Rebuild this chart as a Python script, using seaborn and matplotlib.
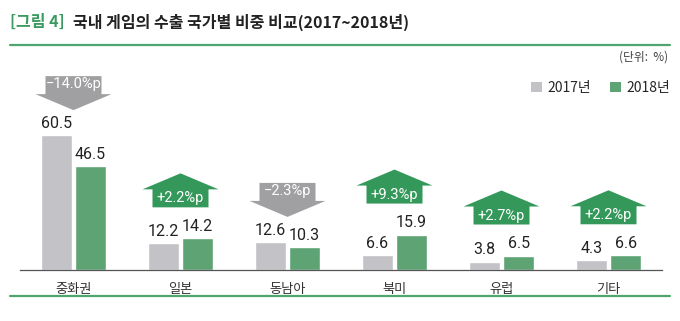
import matplotlib
matplotlib.use("Agg")
import matplotlib.pyplot as plt
from matplotlib.patches import Polygon, Patch
from matplotlib.lines import Line2D
import seaborn as sns
import pandas as pd

# ---- data ----
categories = ["중화권", "일본", "동남아", "북미", "유럽", "기타"]
years = ["2017년", "2018년"]
share_2017 = [60.5, 12.2, 12.6, 6.6, 3.8, 4.3]
share_2018 = [46.5, 14.2, 10.3, 15.9, 6.5, 6.6]
change_labels = ["−14.0%p", "+2.2%p", "−2.3%p", "+9.3%p", "+2.7%p", "+2.2%p"]

title_tag = "[그림 4]"
title_text = "국내 게임의 수출 국가별 비중 비교(2017~2018년)"
unit_text = "(단위:  %)"

df = pd.DataFrame({
    "category": categories * 2,
    "year": [years[0]] * len(categories) + [years[1]] * len(categories),
    "share": share_2017 + share_2018,
})

# ---- style ----
sns.set_theme(style="white")
KR = ["Noto Sans CJK KR", "DejaVu Sans"]
NUM = ["Roboto", "Noto Sans CJK KR", "DejaVu Sans"]
plt.rcParams["font.family"] = KR

GRAY = "#c3c3c7"
GREEN = "#5ea373"
ARROW_GREEN = "#33985a"
ARROW_GRAY = "#a0a0a2"
LINE_GREEN = "#4fa56e"

W, H = 680, 321
fig = plt.figure(figsize=(W / 100, H / 100), dpi=100)
ax_l, ax_r, ax_b, ax_t = 20, 662, 270, 60  # pixel positions
ax = fig.add_axes([ax_l / W, (H - ax_b) / H, (ax_r - ax_l) / W, (ax_b - ax_t) / H])

sns.barplot(data=df, x="category", y="share", hue="year", order=categories,
            hue_order=years, palette=[GRAY, GREEN], width=0.64, gap=0.1,
            saturation=1, ax=ax, legend=False)

ymax = 94.2
ax.set_ylim(0, ymax)
ax.set_xlim(-0.5, len(categories) - 0.5)
ax_h_px = ax_b - ax_t
ax_w_px = ax_r - ax_l
def py(p):  # pixels -> data y units
    return p * ymax / ax_h_px
def px(p):  # pixels -> data x units
    return p * len(categories) / ax_w_px

for cont in ax.containers:
    ax.bar_label(cont, fmt="%.1f", padding=3, fontsize=11.5, family=NUM, color="#222222")

# spines / ticks
for s in ["top", "right", "left"]:
    ax.spines[s].set_visible(False)
ax.spines["bottom"].set_color("#555555")
ax.spines["bottom"].set_linewidth(0.9)
ax.set_yticks([])
ax.set_xlabel("")
ax.set_ylabel("")
ax.tick_params(axis="x", which="major", length=0, pad=9, labelsize=9.5, labelcolor="#333333")
ax.set_xticks([i - 0.5 for i in range(len(categories) + 1)], minor=True)
ax.tick_params(axis="x", which="minor", direction="in", length=4, width=0.9, color="#555555")

# arrows
box_w, tri_w = px(56), px(76)
box_h, tri_h = py(18), py(16)
for i, (a, b, lab) in enumerate(zip(share_2017, share_2018, change_labels)):
    top = max(a, b)
    if b >= a:
        yb = top + py(31)
        verts = [(i - box_w / 2, yb), (i + box_w / 2, yb), (i + box_w / 2, yb + box_h),
                 (i + tri_w / 2, yb + box_h), (i, yb + box_h + tri_h),
                 (i - tri_w / 2, yb + box_h), (i - box_w / 2, yb + box_h)]
        col = ARROW_GREEN
        ty = yb + box_h / 2
    else:
        tip = top + py(25)
        yb = tip + tri_h
        verts = [(i - box_w / 2, yb + box_h), (i + box_w / 2, yb + box_h), (i + box_w / 2, yb),
                 (i + tri_w / 2, yb), (i, tip), (i - tri_w / 2, yb), (i - box_w / 2, yb)]
        col = ARROW_GRAY
        ty = yb + box_h / 2 + py(1)
    ax.add_patch(Polygon(verts, closed=True, facecolor=col, edgecolor="none", zorder=3, clip_on=False))
    ax.text(i, ty, lab, ha="center", va="center", color="white", fontsize=10.5,
            family=NUM, zorder=4)

# title
t1 = fig.text(10 / W, 1 - 22 / H, title_tag, color="#3a9a5f", fontsize=11.5, fontweight="bold",
              ha="left", va="center")
fig.canvas.draw()
bb = t1.get_window_extent(fig.canvas.get_renderer())
fig.text((bb.x1 + 8) / W, 1 - 22 / H, title_text, color="#222222", fontsize=11.5,
         fontweight="bold", ha="left", va="center")

fig.add_artist(Line2D([10 / W, 670 / W], [1 - 45 / H, 1 - 45 / H], color=LINE_GREEN, lw=1.6))
fig.add_artist(Line2D([10 / W, 670 / W], [1 - 296 / H, 1 - 296 / H], color=LINE_GREEN, lw=1.6))

fig.text(668 / W, 1 - 57 / H, unit_text, ha="right", va="center", fontsize=8.5, color="#444444")

handles = [Patch(facecolor=GRAY, edgecolor="none"), Patch(facecolor=GREEN, edgecolor="none")]
fig.legend(handles, years, loc="center right", bbox_to_anchor=(670 / W, 1 - 88 / H),
           ncol=2, frameon=False, fontsize=10, handlelength=0.75, handleheight=0.75,
           handletextpad=0.4, columnspacing=1.4, borderaxespad=0, borderpad=0)

fig.savefig("out.png", dpi=100, facecolor="white")
